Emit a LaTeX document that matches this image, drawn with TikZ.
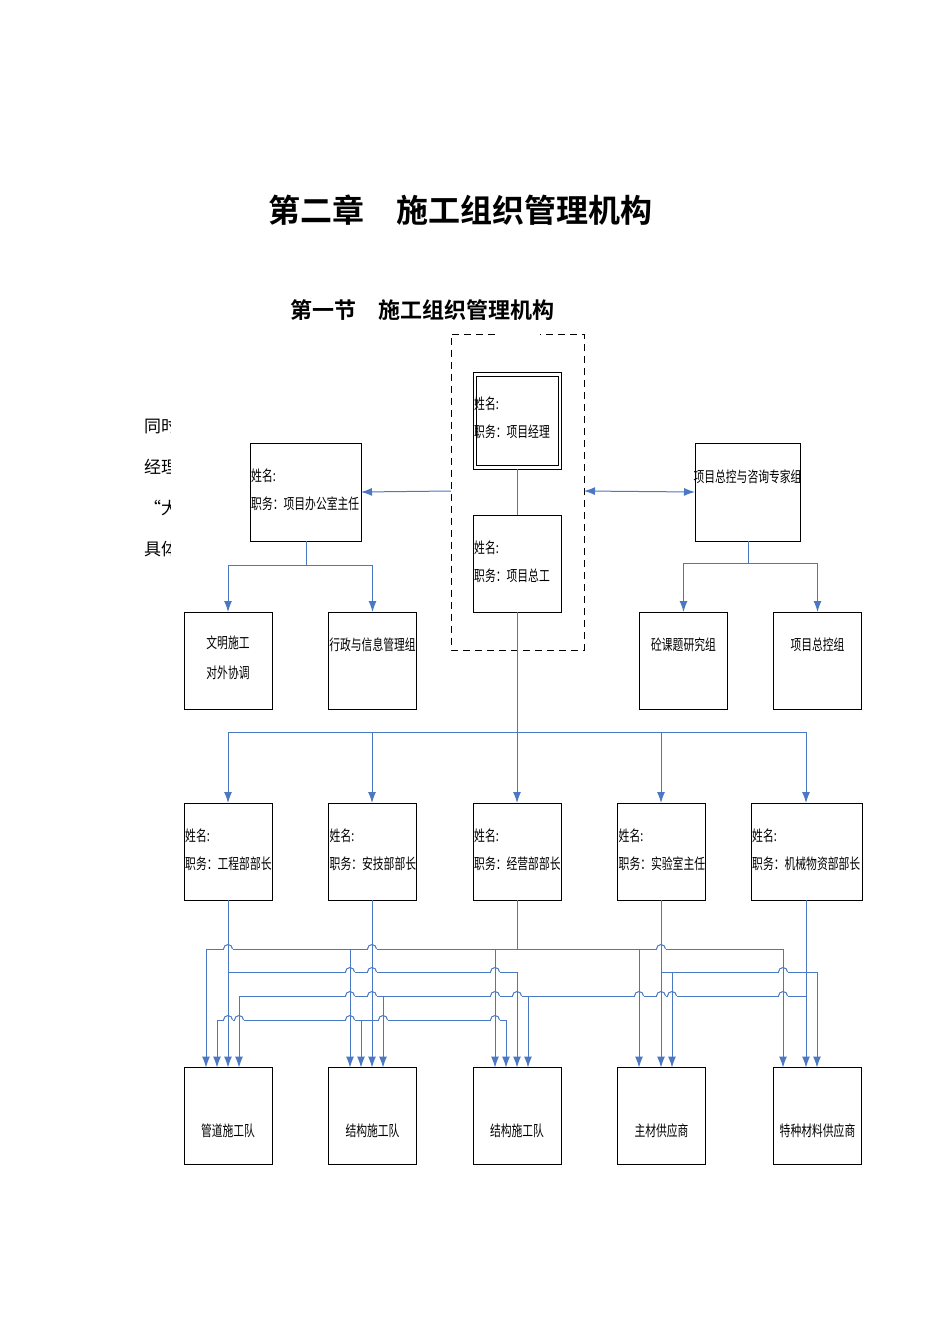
\documentclass[tikz,border=0pt]{standalone}
\usepackage{fontspec}
\usetikzlibrary{arrows.meta}
\newfontfamily\cjk[FakeStretch=0.72]{Noto Sans CJK SC}
\newfontfamily\cjkt{Noto Sans CJK SC Bold}
\newfontfamily\cjkn{Noto Sans CJK SC}
\definecolor{lb}{HTML}{4A78C2}
\tikzset{
 box/.style={draw=black, line width=1pt, inner sep=0pt, outer sep=0pt, minimum width=88pt, minimum height=97pt},
 ln/.style={draw=lb, line width=1pt},
 arr/.style={ln, -{Latex[length=11pt,width=8pt]}},
 txt/.style={font=\cjk\fontsize{15}{28}\selectfont, align=left, inner sep=0pt, anchor=west},
 ctxt/.style={font=\cjk\fontsize{15}{30}\selectfont, align=center, inner sep=0pt}
}
\newcommand\hop[2]{\fill[white] ({#1-4.5},{#2-1.5}) rectangle ({#1+4.5},{#2+1.5});
 \draw[ln] ({#1-4.5},#2) arc[start angle=180,end angle=360,radius=4.5];
 \draw[ln] (#1,{#2-6}) -- (#1,{#2+6});}
\begin{document}
\begin{tikzpicture}[x=1pt,y=-1pt]
\useasboundingbox (0,0) rectangle (950,1344);
\node[font=\cjkt\fontsize{32}{32}\selectfont] (title) at (460,210) {第二章\hspace{1em}施工组织管理机构};
\node[font=\cjkt\fontsize{22}{22}\selectfont] (sec) at (422,310) {第一节\hspace{1em}施工组织管理机构};
\begin{scope}
\clip (140,400) rectangle (170,570);
\foreach \t/\y in {同时/426,经理/467,“大/508,具体/549}
  \node[font=\cjkn\fontsize{17}{17}\selectfont, anchor=west, inner sep=0pt] at (144,\y) {\t};
\end{scope}
% dashed group
\draw[dashed, line width=1pt, dash pattern=on 7pt off 5pt] (495,334) -- (451,334) -- (451,650) -- (584,650) -- (584,334) -- (540,334);
\coordinate (dl) at (451,491);
\coordinate (dr) at (584,491);
% top boxes
\node[box] (pm) at (517,420.5) {};
\draw[line width=1pt] (476,376) rectangle (558,465);
\node[txt] at (474,418) {姓名:\\职务：项目经理};
\node[box] (ce) at (517,563.5) {};
\node[txt] at (474,562) {姓名:\\职务：项目总工};
\draw[ln] (pm) -- (ce);
\node[box, minimum width=111pt, minimum height=98pt] (of) at (305.5,492) {};
\node[txt] at (251,490) {姓名:\\职务：项目办公室主任};
\node[box, minimum width=105pt, minimum height=98pt] (ex) at (747.5,492) {};
\node[ctxt] at (747.5,477) {项目总控与咨询专家组};
\draw[arr] (dl) -- (of.east);
\draw[ln, {Latex[length=11pt,width=8pt]}-{Latex[length=11pt,width=8pt]}] (dr) -- (ex.west);
% second row
\node[box] (wm) at (228,660.5) {};
\node[ctxt] at (228,658) {文明施工\\对外协调};
\node[box] (xz) at (372.5,660.5) {};
\node[ctxt] at (372.5,645) {行政与信息管理组};
\node[box] (tk) at (683.5,660.5) {};
\node[ctxt] at (683.5,645) {砼课题研究组};
\node[box] (zk) at (817.5,660.5) {};
\node[ctxt] at (817.5,645) {项目总控组};
\draw[ln] (of.south -| 306,0) -- (306,565);
\draw[ln] (228,565) -- (372.5,565);
\draw[arr] (228,565) -- (wm.north);
\draw[arr] (372.5,565) -- (xz.north);
\draw[ln] (ex.south -| 748,0) -- (748,563);
\draw[ln] (683.5,563) -- (817.5,563);
\draw[arr] (683.5,563) -- (tk.north);
\draw[arr] (817.5,563) -- (zk.north);
% managers
\node[box] (m1) at (228,851.5) {};
\node[box] (m2) at (372.5,851.5) {};
\node[box] (m3) at (517,851.5) {};
\node[box] (m4) at (661.5,851.5) {};
\node[box, minimum width=111pt] (m5) at (806.5,851.5) {};
\foreach \n/\t in {m1/工程部部长,m2/安技部部长,m3/经营部部长,m4/实验室主任,m5/机械物资部部长}
  \node[txt] at ([xshift=1pt,yshift=2pt]\n.west) {姓名:\\职务：\t};
\draw[ln] (ce.south) -- (517,732);
\draw[ln] (228,732) -- (806,732);
\foreach \x/\n in {228/m1,372/m2,517/m3,661/m4,806/m5}
  \draw[arr] (\x,732) -- (\x,0 |- \n.north);
% teams
\node[box] (t1) at (228,1116) {};
\node[box] (t2) at (372.5,1116) {};
\node[box] (t3) at (517,1116) {};
\node[box] (t4) at (661.5,1116) {};
\node[box] (t5) at (817.5,1116) {};
\foreach \n/\t in {t1/管道施工队,t2/结构施工队,t3/结构施工队,t4/主材供应商,t5/特种材料供应商}
  \node[ctxt] at ([yshift=-15pt]\n.center) {\t};
% buses
\draw[ln] (m3.south -| 517,0) -- (517,949);
\draw[ln] (206,949) -- (783,949);
\draw[ln] (m1.south -| 228,0) -- (228,972) -- (517,972);
\draw[ln] (661,972) -- (817,972);
\draw[ln] (239,996) -- (806,996);
\draw[ln] (217,1020) -- (506,1020);
\draw[arr] (m1.south -| 228,0) -- (228,0 |- t1.north);
\draw[arr] (m2.south -| 372,0) -- (372,0 |- t2.north);
\draw[arr] (m4.south -| 661,0) -- (661,0 |- t4.north);
\draw[arr] (m5.south -| 806,0) -- (806,0 |- t5.north);
\foreach \x/\n in {206/t1,350/t2,495/t3,639/t4,783/t5} \draw[arr] (\x,949) -- (\x,0 |- \n.north);
\foreach \x/\n in {517/t3,672/t4,817/t5} \draw[arr] (\x,972) -- (\x,0 |- \n.north);
\foreach \x/\n in {239/t1,383/t2,528/t3} \draw[arr] (\x,996) -- (\x,0 |- \n.north);
\foreach \x/\n in {217/t1,361/t2,506/t3} \draw[arr] (\x,1020) -- (\x,0 |- \n.north);
% hops
\hop{228}{949}\hop{228}{1020}
\hop{372}{949}\hop{372}{972}\hop{372}{996}
\hop{517}{996}
\hop{661}{949}\hop{661}{996}
\hop{350}{972}\hop{350}{996}\hop{350}{1020}
\hop{495}{972}\hop{495}{996}\hop{495}{1020}
\hop{639}{996}\hop{783}{972}\hop{783}{996}
\hop{672}{996}\hop{239}{1020}\hop{383}{1020}
\end{tikzpicture}
\end{document}
